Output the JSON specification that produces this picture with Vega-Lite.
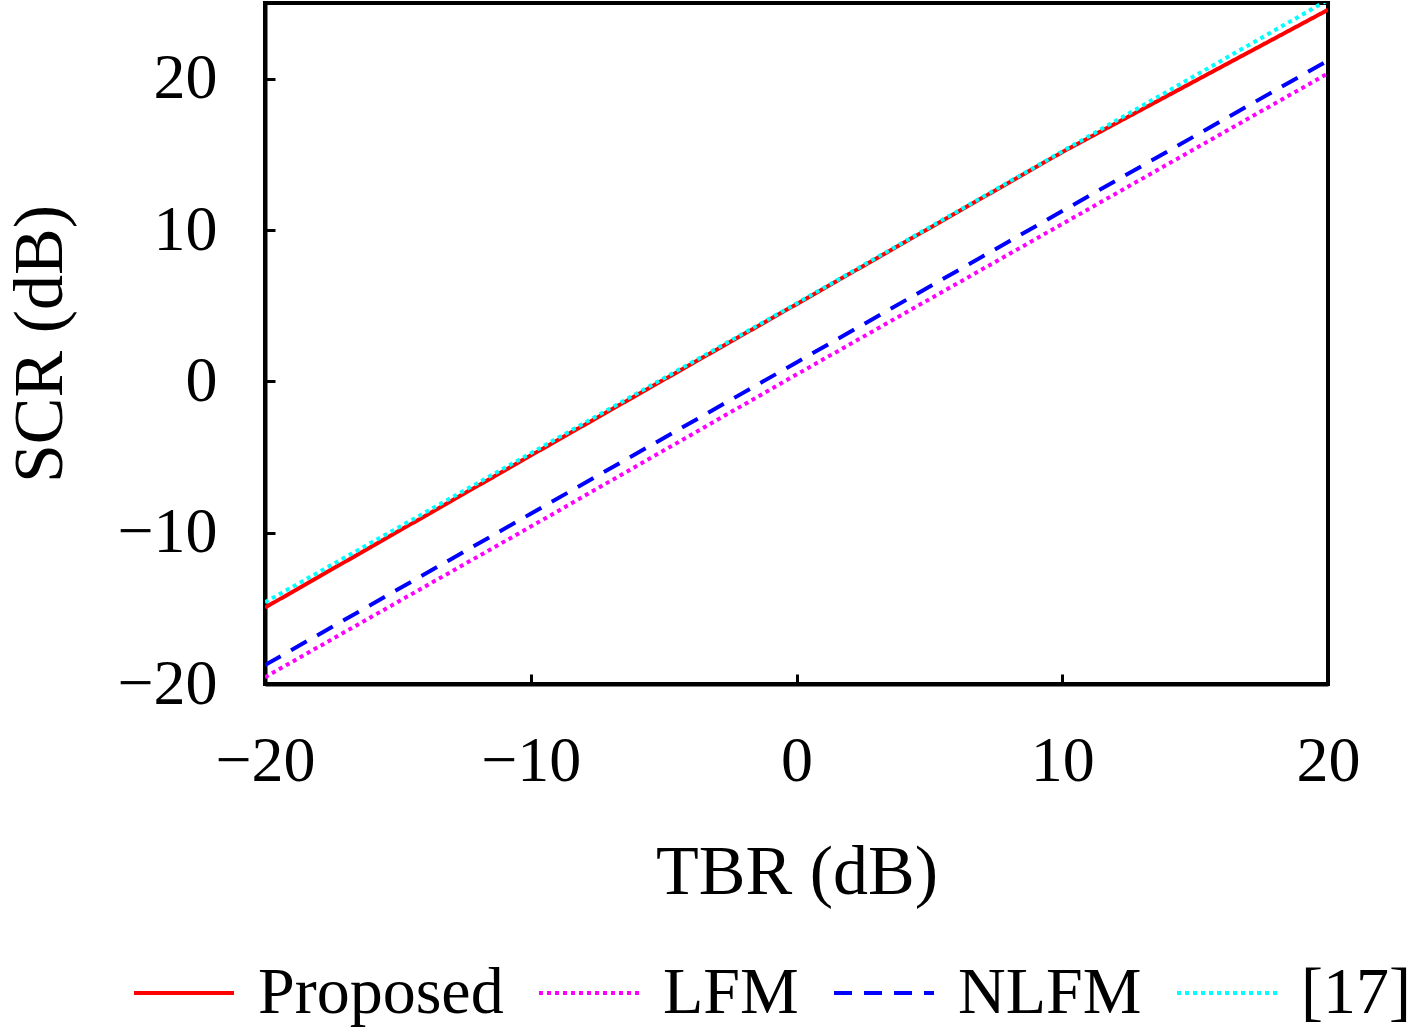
{
  "$schema": "https://vega.github.io/schema/vega-lite/v6.json",
  "autosize": "none",
  "width": 1063,
  "height": 681,
  "padding": {"left": 265, "top": 3, "right": 89, "bottom": 348},
  "background": "white",
  "config": {
    "font": "Liberation Serif",
    "view": {"stroke": "black", "strokeWidth": 4},
    "axis": {
      "domainColor": "black",
      "domainWidth": 4,
      "tickColor": "black",
      "tickWidth": 3,
      "tickSize": -10,
      "grid": false,
      "labelFont": "Liberation Serif",
      "labelFontSize": 64,
      "labelColor": "black",
      "labelFlush": false,
      "titleFont": "Liberation Serif",
      "titleFontSize": 70,
      "titleFontWeight": "normal",
      "titleColor": "black"
    }
  },
  "data": {
    "values": [
      {"tbr": -20, "scr": -14.95, "method": "Proposed"},
      {"tbr": -10, "scr": -4.9, "method": "Proposed"},
      {"tbr": 0, "scr": 5.1, "method": "Proposed"},
      {"tbr": 10, "scr": 15.15, "method": "Proposed"},
      {"tbr": 20, "scr": 24.55, "method": "Proposed"},
      {"tbr": -20, "scr": -19.55, "method": "LFM"},
      {"tbr": -10, "scr": -9.6, "method": "LFM"},
      {"tbr": 0, "scr": 0.45, "method": "LFM"},
      {"tbr": 10, "scr": 10.4, "method": "LFM"},
      {"tbr": 20, "scr": 20.35, "method": "LFM"},
      {"tbr": -20, "scr": -18.75, "method": "NLFM"},
      {"tbr": -10, "scr": -8.75, "method": "NLFM"},
      {"tbr": 0, "scr": 1.25, "method": "NLFM"},
      {"tbr": 10, "scr": 11.25, "method": "NLFM"},
      {"tbr": 20, "scr": 21.2, "method": "NLFM"},
      {"tbr": -20, "scr": -14.6, "method": "[17]"},
      {"tbr": -10, "scr": -4.75, "method": "[17]"},
      {"tbr": 0, "scr": 5.15, "method": "[17]"},
      {"tbr": 10, "scr": 15.2, "method": "[17]"},
      {"tbr": 20, "scr": 25.2, "method": "[17]"}
    ]
  },
  "mark": {"type": "line", "strokeWidth": 4, "clip": true},
  "encoding": {
    "x": {
      "field": "tbr",
      "type": "quantitative",
      "title": "TBR (dB)",
      "scale": {"domain": [-20, 20], "nice": false},
      "axis": {"values": [-20, -10, 0, 10, 20], "labelPadding": 55, "titlePadding": 45}
    },
    "y": {
      "field": "scr",
      "type": "quantitative",
      "title": "SCR (dB)",
      "scale": {"domain": [-20, 25], "nice": false},
      "axis": {"values": [-20, -10, 0, 10, 20], "labelPadding": 58, "titlePadding": 40}
    },
    "color": {
      "field": "method",
      "type": "nominal",
      "title": null,
      "scale": {
        "domain": ["Proposed", "LFM", "NLFM", "[17]"],
        "range": ["#ff0000", "#ff00ff", "#0000ff", "#00ffff"]
      },
      "legend": {
        "orient": "none",
        "direction": "horizontal",
        "legendX": -133,
        "legendY": 938,
        "symbolType": "stroke",
        "symbolSize": 10000,
        "symbolStrokeWidth": 4,
        "labelFontSize": 66,
        "labelFont": "Liberation Serif",
        "labelColor": "black",
        "labelLimit": 500,
        "labelOffset": 22,
        "columnPadding": 27
      }
    },
    "strokeDash": {
      "field": "method",
      "type": "nominal",
      "title": null,
      "scale": {
        "domain": ["Proposed", "LFM", "NLFM", "[17]"],
        "range": [[1, 0], [4, 4], [18, 12], [4, 4]]
      }
    }
  }
}
